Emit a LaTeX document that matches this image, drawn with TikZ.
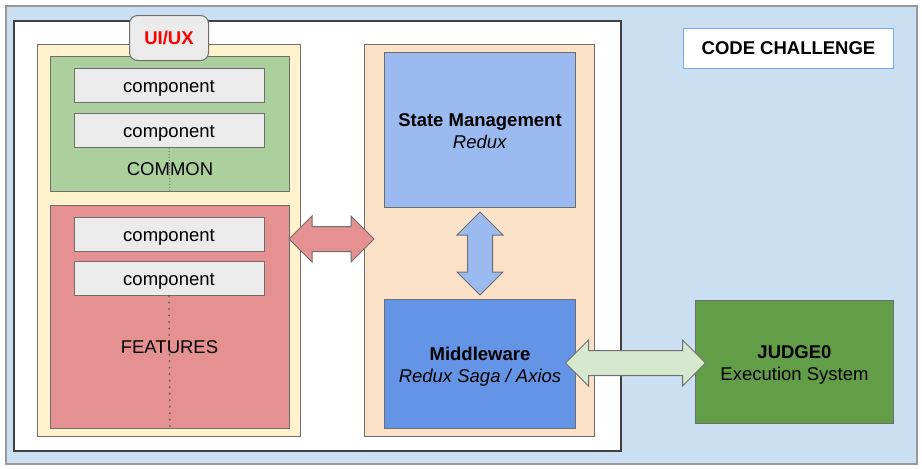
\documentclass[tikz,border=0pt]{standalone}
\usepackage{fontspec}
\setmainfont{Liberation Sans}
\usepackage{tikz}
\usetikzlibrary{arrows, positioning, shapes.geometric, shapes, calc}

\definecolor{bgblue}{RGB}{202,223,242}
\definecolor{uiyellow}{RGB}{255,242,204}
\definecolor{commongreen}{RGB}{172,208,157}
\definecolor{featred}{RGB}{230,145,145}
\definecolor{compgray}{RGB}{235,235,235}
\definecolor{statorange}{RGB}{251,225,199}
\definecolor{stateblue}{RGB}{155,187,240}
\definecolor{midblue}{RGB}{100,148,230}
\definecolor{judgegreen}{RGB}{98,157,72}
\definecolor{linkgreen}{RGB}{214,232,206}
\definecolor{codeblue}{RGB}{120,165,240}
\definecolor{edgegray}{RGB}{110,110,110}

\begin{document}
\begin{tikzpicture}[x=1pt, y=-1pt,
  font=\fontsize{18.5}{21.5}\selectfont,
  box/.style={draw=edgegray, line width=1pt, anchor=north west, inner sep=0pt},
  twoline/.style={align=center, text height=40pt, text depth=4pt},
  comp/.style={box, fill=compgray, minimum width=190pt, minimum height=34pt,
    text height=15pt, text depth=2pt},
  fat/.style={shape=double arrow, draw=edgegray, line width=1pt, inner xsep=0pt, inner ysep=12pt,
    minimum height=#1, minimum width=45pt, double arrow head extend=10.5pt}
]
\useasboundingbox (0,0) rectangle (922,469);
\node[box, draw=black!40, line width=1.5pt, fill=bgblue, minimum width=911pt, minimum height=458pt] (frame) at (5,5) {};
\node[box, draw=black!75, line width=2pt, fill=white, minimum width=607pt, minimum height=430pt] (app) at (13,20) {};
\node[box, fill=uiyellow, minimum width=263pt, minimum height=392pt] (ui) at (37,44) {};
\node[box, fill=commongreen, minimum width=239pt, minimum height=135pt] (common) at (50,56) {};
\node[box, fill=featred, minimum width=239pt, minimum height=223pt] (features) at (50,205) {};
\foreach \y/\n in {68/c1, 113/c2, 217/c3, 261/c4}
  \node[comp] (\n) at (73.5,\y) {component};
\draw[edgegray, dotted, line width=1pt] (c2.south) -- (common.south);
\draw[edgegray!80!black, line width=2pt, line cap=round, dash pattern=on 0.01pt off 6.5pt] (c4.south) -- (features.south);
\node (commonlbl) at ($(common.south)+(0,-23)$) {COMMON};
\node (featlbl) at (169.5,347) {FEATURES};
\node[box, fill=compgray, rounded corners=8pt, minimum width=79pt, minimum height=45pt,
  text=red, font=\fontsize{18.5}{21.5}\selectfont\bfseries] (uiux) at (129,15) {UI/UX};

\node[box, fill=statorange, minimum width=230pt, minimum height=392pt] (store) at (364,44) {};
\node[box, twoline, fill=stateblue, minimum width=191pt, minimum height=155pt] (state) at (384,52)
  {\textbf{State Management}\\\textit{Redux}};
\node[box, twoline, fill=midblue, minimum width=191pt, minimum height=129pt] (middle) at (384,299)
  {\textbf{Middleware}\\\textit{Redux Saga / Axios}};

\node[box, draw=codeblue, fill=white, minimum width=210pt, minimum height=40pt,
  font=\fontsize{18.5}{21.5}\selectfont\bfseries] (code) at (683,28) {CODE CHALLENGE};
\node[box, twoline, fill=judgegreen, minimum width=198pt, minimum height=123pt] (judge) at (695,300)
  {\textbf{JUDGE0}\\Execution System};

\node[fat=85pt, fill=featred] (uilink) at (331.5,239) {};
\node[fat=83pt, fill=stateblue, rotate=90] (statelink) at ($(state.south)!0.5!(middle.north)$) {};
\node[fat=140pt, fill=linkgreen] (judgelink) at ($(middle.east)!0.5!(judge.west)$) {};
\end{tikzpicture}
\end{document}
